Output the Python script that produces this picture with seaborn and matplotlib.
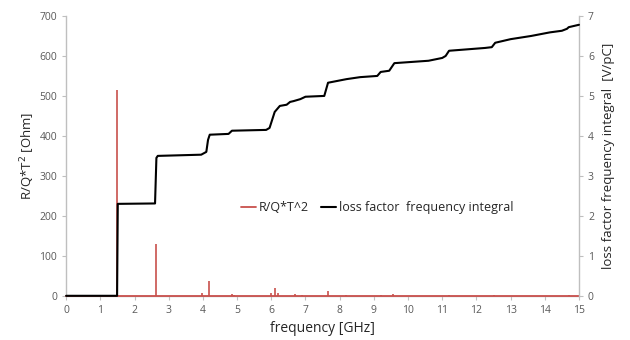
import matplotlib
matplotlib.use("Agg")
import matplotlib.pyplot as plt
import seaborn as sns
import pandas as pd

# loss factor frequency integral [V/pC] (right axis)
integral_freq = [0, 1.49, 1.51, 2.6, 2.64, 2.68, 3.95, 4.1, 4.15, 4.2, 4.75, 4.85,
                 5.85, 5.95, 6.1, 6.25, 6.45, 6.55, 6.65, 6.85, 7.0, 7.55, 7.66,
                 8.2, 8.6, 9.1, 9.2, 9.45, 9.6, 10.6, 11.0, 11.1, 11.2, 12.25,
                 12.45, 12.55, 13.0, 13.6, 14.15, 14.5, 14.65, 14.7, 15.0]
integral_val = [0, 0, 2.3, 2.31, 3.45, 3.5, 3.53, 3.6, 3.9, 4.03, 4.05, 4.13,
                4.15, 4.2, 4.6, 4.75, 4.78, 4.85, 4.87, 4.92, 4.98, 5.0, 5.33,
                5.42, 5.47, 5.5, 5.6, 5.63, 5.82, 5.88, 5.95, 6.0, 6.13, 6.2,
                6.22, 6.33, 6.42, 6.5, 6.59, 6.63, 6.68, 6.72, 6.78]

# R/Q*T^2 [Ohm] resonance peaks (left axis)
peak_freq = [1.50, 2.63, 3.97, 4.17, 4.85, 4.92, 6.00, 6.12, 6.20, 6.70, 6.90,
             7.65, 8.20, 9.20, 9.55, 11.20, 12.50, 14.70]
peak_rq = [515, 130, 8, 37, 5, 3, 8, 20, 8, 4, 2, 12, 2, 3, 4, 3, 2, 1]

freq_range = [0, 15]

sns.set_style("white")
plt.rcParams["font.family"] = ["Open Sans", "DejaVu Sans"]

red = "#C8504C"
tick_col = "#595959"
spine_col = "#BFBFBF"

fig, ax = plt.subplots(figsize=(6.3, 3.4), dpi=100)
ax2 = ax.twinx()

# red spectrum: baseline plus spikes
sns.lineplot(x=freq_range, y=[0, 0], ax=ax, color=red, linewidth=1.3,
             label="R/Q*T^2", legend=False, clip_on=False, zorder=3)
ax.vlines(peak_freq, 0, peak_rq, color=red, linewidth=1.2, zorder=3)

sns.lineplot(data=pd.DataFrame({"f": integral_freq, "k": integral_val}),
             x="f", y="k", ax=ax2, color="black", linewidth=1.5,
             label="loss factor  frequency integral", legend=False, sort=False,
             clip_on=False)

ax.set_xlim(0, 15)
ax.set_ylim(0, 700)
ax2.set_ylim(0, 7)
ax.set_xticks(range(0, 16))
ax.set_yticks(range(0, 701, 100))
ax2.set_yticks(range(0, 8))

for a in (ax, ax2):
    a.spines["top"].set_visible(False)
    for s in ("left", "right", "bottom"):
        a.spines[s].set_color(spine_col)
        a.spines[s].set_linewidth(1.0)
        a.spines[s].set_zorder(0)
    a.tick_params(colors=spine_col, labelcolor=tick_col, labelsize=7.5,
                  length=3, width=0.8, direction="out")
ax2.spines["bottom"].set_visible(False)
ax2.spines["left"].set_visible(False)
ax.spines["right"].set_visible(False)
ax.tick_params(axis="y", left=True)
ax.tick_params(axis="x", bottom=True)

ax.set_xlabel("frequency [GHz]", fontsize=10, color="#262626", labelpad=4)
ax.set_ylabel("R/Q*T$^2$ [Ohm]", fontsize=9.5, color="#262626", labelpad=2)
ax2.set_ylabel("loss factor frequency integral  [V/pC]", fontsize=9.5,
               color="#262626", labelpad=6)

h1, l1 = ax.get_legend_handles_labels()
h2, l2 = ax2.get_legend_handles_labels()
ax2.legend(h1 + h2, l1 + l2, loc="center", bbox_to_anchor=(0.607, 0.315),
           ncol=2, frameon=False, fontsize=9, handlelength=1.2,
           handletextpad=0.2, columnspacing=1.0, labelcolor="#262626")

fig.subplots_adjust(left=0.105, right=0.919, top=0.953, bottom=0.13)
fig.savefig("out.png", dpi=100)
